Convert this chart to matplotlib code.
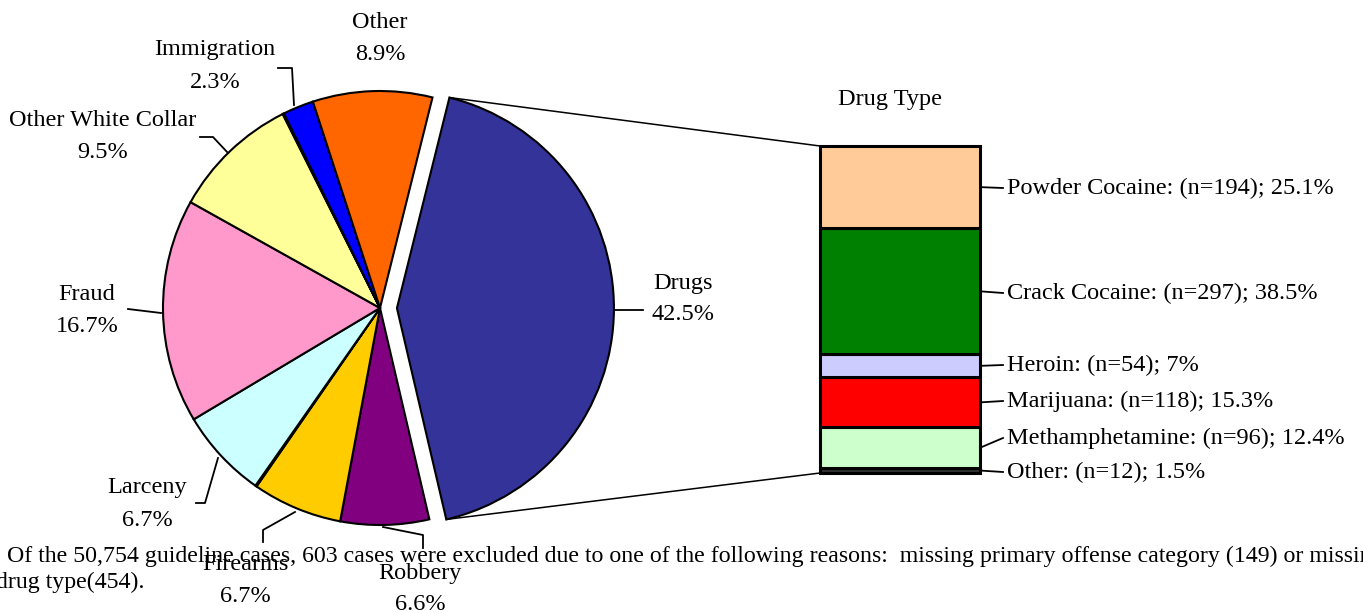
import numpy as np
import matplotlib
matplotlib.use("Agg")
import matplotlib.pyplot as plt
from matplotlib.patches import ConnectionPatch

plt.rcParams['font.family'] = ['Liberation Serif', 'DejaVu Serif']

#---pie data (clockwise from the exploded slice)
offense = ['Drugs', 'Robbery', 'Firearms', '', 'Larceny', 'Fraud',
           'Other White Collar', '', 'Immigration', 'Other']
offense_pct = [42.5, 6.6, 6.7, 0.1, 6.7, 16.7, 9.5, 0.1, 2.3, 8.9]
offense_col = ['#333399', '#800080', '#FFCC00', '#C0C0C0', '#CCFFFF', '#FF99CC',
               '#FFFF99', '#C0C0C0', '#0000FF', '#FF6600']

#---drug type data (bottom to top)
drug = ['Other', 'Methamphetamine', 'Marijuana', 'Heroin', 'Crack Cocaine', 'Powder Cocaine']
drug_n = [12, 96, 118, 54, 297, 194]
drug_pct = [1.5, 12.4, 15.3, 7, 38.5, 25.1]
drug_col = ['#333333', '#CCFFCC', '#FF0000', '#CCCCFF', '#008000', '#FFCC99']

W, H = 1363, 613
fig = plt.figure(figsize=(W/100, H/100), dpi=100)

#---pie axes
cx, cy, r = 380, 308, 217
axp = fig.add_axes([(cx - 1.25*r)/W, (H - cy - 1.25*r)/H, 2.5*r/W, 2.5*r/H])
explode = [0.078] + [0]*(len(offense_pct) - 1)
wedges, _ = axp.pie(offense_pct, colors=offense_col, explode=explode, startangle=76,
                    counterclock=False, wedgeprops=dict(edgecolor='black', linewidth=1.5))
axp.set_aspect('auto')
axp.set_xlim(-1.25, 1.25)
axp.set_ylim(-1.25, 1.25)
axp.axis('off')

#---stacked bar axes
bx0, bx1, by0, by1 = 820, 980, 146, 473
axb = fig.add_axes([bx0/W, (H - by1)/H, (bx1 - bx0)/W, (by1 - by0)/H])
bottom = 0
for v, c in zip(drug_pct, drug_col):
    axb.bar(0, v, width=1, bottom=bottom, color=c, edgecolor='black', linewidth=2.2, clip_on=False)
    bottom += v
axb.set_xlim(-0.5, 0.5)
axb.set_ylim(0, sum(drug_pct))
axb.axis('off')

#---lines from the drug slice to the bar
wd = wedges[0]
for th, yb in [(wd.theta1, 0), (wd.theta2, sum(drug_pct))]:
    pt = (wd.center[0] + np.cos(np.radians(th)), wd.center[1] + np.sin(np.radians(th)))
    con = ConnectionPatch(xyA=pt, coordsA=axp.transData, xyB=(-0.5, yb), coordsB=axb.transData,
                          color='black', linewidth=1.1)
    fig.add_artist(con)

#---overlay in pixel coordinates for labels
ov = fig.add_axes([0, 0, 1, 1], zorder=5)
ov.set_xlim(0, W)
ov.set_ylim(H, 0)
ov.axis('off')
fs = 17.5

pie_labels = {
    'Other': ((380, 22), None),
    'Immigration': ((215, 50), [(278, 68), (292, 68), (294, 105)]),
    'Other White Collar': ((103, 120), [(200, 137), (213, 137), (228, 153)]),
    'Fraud': ((87, 295), [(128, 309), (161, 313)]),
    'Larceny': ((147, 488), [(196, 503), (205, 503), (218, 458)]),
    'Firearms': ((245, 565), [(263, 542), (263, 530), (295, 512)]),
    'Robbery': ((420, 573), [(383, 527), (423, 535), (423, 548)]),
    'Drugs': ((683, 283), [(615, 310), (643, 310)]),
}
for name, pct in zip(offense, offense_pct):
    if name not in pie_labels:
        continue
    (tx, ty), line = pie_labels[name]
    ov.text(tx, ty, name, ha='center', va='center', fontsize=fs)
    ov.text(tx, ty + 32, f'{pct:.1f}%', ha='center', va='center', fontsize=fs)
    if line:
        xs, ys = zip(*line)
        ov.plot(xs, ys, color='black', linewidth=1.3)

ov.text(890, 100, 'Drug Type', ha='center', va='center', fontsize=fs)

bar_label_y = [472, 438, 401, 365, 293, 188]
to_ov = ov.transData.inverted()
cum = 0
for name, n, p, ly in zip(drug, drug_n, drug_pct, bar_label_y):
    mid = cum + p/2
    cum += p
    ex, ey = to_ov.transform(axb.transData.transform((0.5, mid)))
    ov.plot([ex, 1003], [ey, ly], color='black', linewidth=1.3)
    ptxt = f'{p:g}%'
    ov.text(1007, ly, f'{name}: (n={n}); {ptxt}', ha='left', va='center', fontsize=fs)

ov.text(7, 556, 'Of the 50,754 guideline cases, 603 cases were excluded due to one of the following '
        'reasons:  missing primary offense category (149) or missing', ha='left', va='center', fontsize=17.2)
ov.text(-4, 582, 'drug type(454).', ha='left', va='center', fontsize=17.2)

fig.savefig('out.png', dpi=100)
